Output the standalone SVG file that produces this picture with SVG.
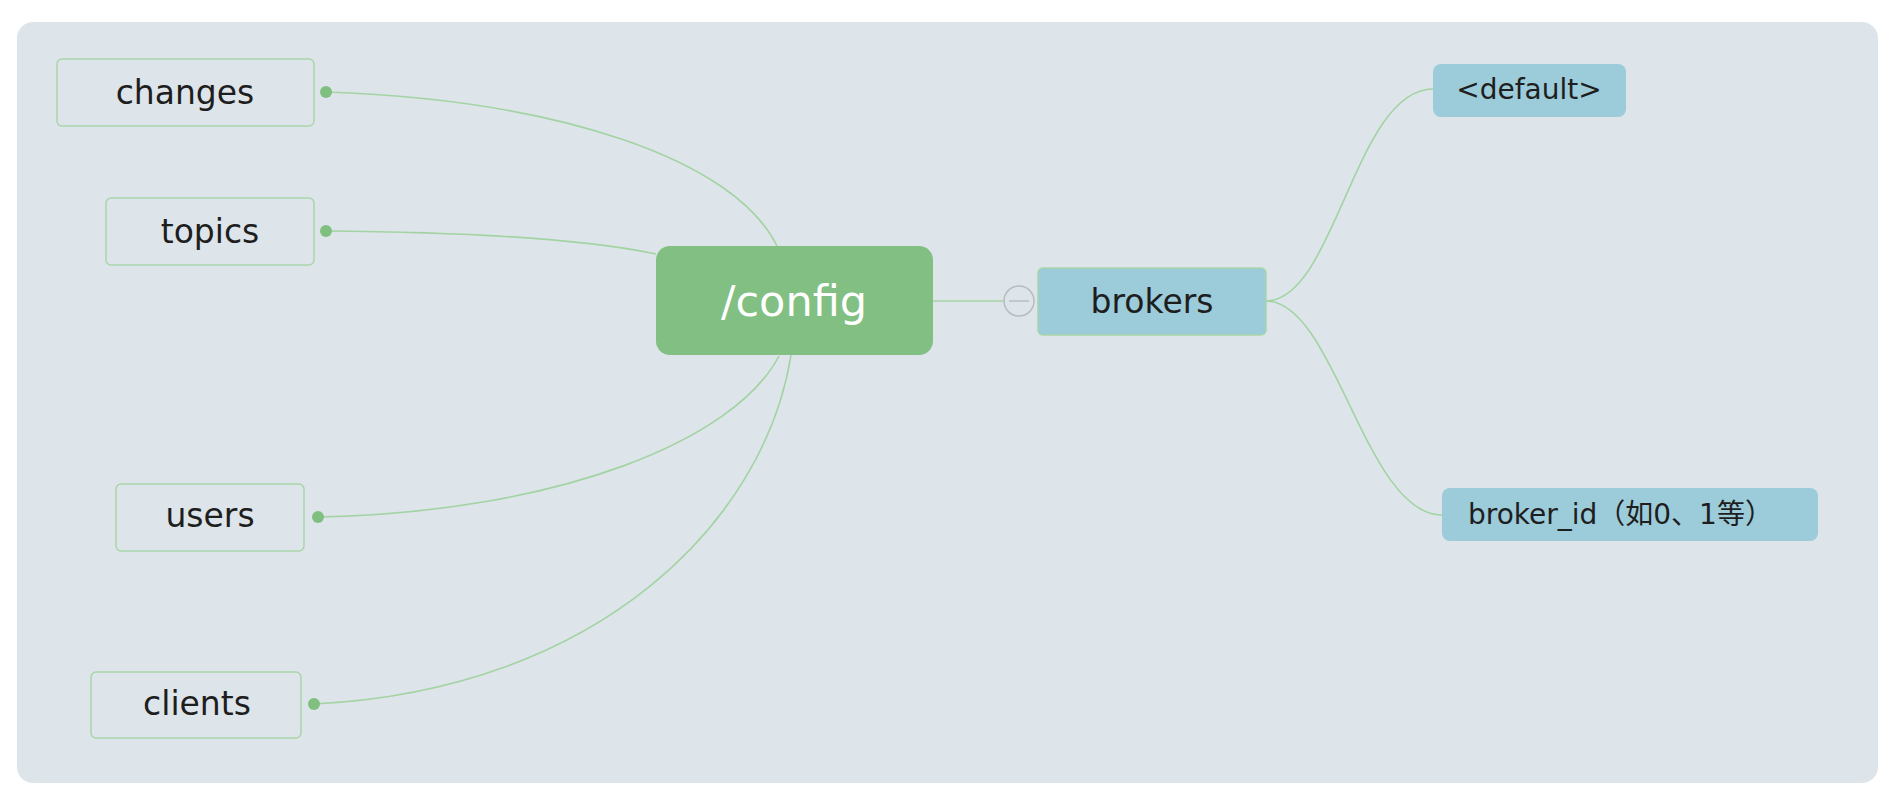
<svg xmlns="http://www.w3.org/2000/svg" width="1894" height="792" viewBox="0 0 1894 792">
<defs>
<style>
.bg{fill:#dde5ea}
.leaf{fill:#dde5ea;stroke:#a9d6a9;stroke-width:1.5}
.blue{fill:#9ccbda}
.t{font-family:"DejaVu Sans","Noto Sans CJK SC",sans-serif;fill:#1e1e1e;dominant-baseline:central}
.c{text-anchor:middle}
.link{fill:none;stroke:#a3d3a3;stroke-width:1.6}
.dot{fill:#7fbf7f}
</style>
</defs>
<rect width="1894" height="792" fill="#ffffff"/>
<rect class="bg" x="17" y="22" width="1861" height="761" rx="16"/>
<g id="connectors">
<path class="link" d="M326,92 C560,100 735,160 777,246"/>
<path class="link" d="M326,231 C450,232 580,238 656,254"/>
<path class="link" d="M318,517 C560,512 735,440 779,356"/>
<path class="link" d="M314,704 C600,690 765,520 791,355"/>
<path class="link" d="M933,301 L1004,301"/>
<path class="link" d="M1266,301 C1335,301 1355,89 1433,89"/>
<path class="link" d="M1266,301 C1335,301 1365,515 1442,515"/>
</g>
<g id="node-changes">
<rect class="leaf" x="57" y="59" width="257" height="67" rx="5"/>
<text class="t c" x="185" y="92" font-size="33">changes</text>
<circle class="dot" cx="326" cy="92" r="6"/>
</g>
<g id="node-topics">
<rect class="leaf" x="106" y="198" width="208" height="67" rx="5"/>
<text class="t c" x="210" y="231" font-size="33">topics</text>
<circle class="dot" cx="326" cy="231" r="6"/>
</g>
<g id="node-users">
<rect class="leaf" x="116" y="484" width="188" height="67" rx="5"/>
<text class="t c" x="210" y="515" font-size="33">users</text>
<circle class="dot" cx="318" cy="517" r="6"/>
</g>
<g id="node-clients">
<rect class="leaf" x="91" y="672" width="210" height="66" rx="5"/>
<text class="t c" x="197" y="703" font-size="33">clients</text>
<circle class="dot" cx="314" cy="704" r="6"/>
</g>
<g id="node-config">
<rect x="656" y="246" width="277" height="109" rx="14" fill="#82bf82"/>
<text class="t c" x="794" y="301" font-size="43" style="fill:#ffffff">/config</text>
</g>
<g id="collapse">
<circle cx="1019" cy="301" r="15" fill="#dde5ea" stroke="#b8bcbf" stroke-width="1.5"/>
<line x1="1009" y1="301" x2="1029" y2="301" stroke="#b8bcbf" stroke-width="1.5"/>
</g>
<g id="node-brokers">
<rect class="blue" x="1038" y="268" width="228" height="67" rx="5" stroke="#a9d6a9" stroke-width="1.5"/>
<text class="t c" x="1152" y="301" font-size="33">brokers</text>
</g>
<g id="node-default">
<rect class="blue" x="1433" y="64" width="193" height="53" rx="8"/>
<text class="t c" x="1529" y="89" font-size="28">&lt;default&gt;</text>
</g>
<g id="node-broker-id">
<rect class="blue" x="1442" y="488" width="376" height="53" rx="8"/>
<text class="t" x="1468" y="514" font-size="28">broker_id（如0、1等）</text>
</g>
</svg>
